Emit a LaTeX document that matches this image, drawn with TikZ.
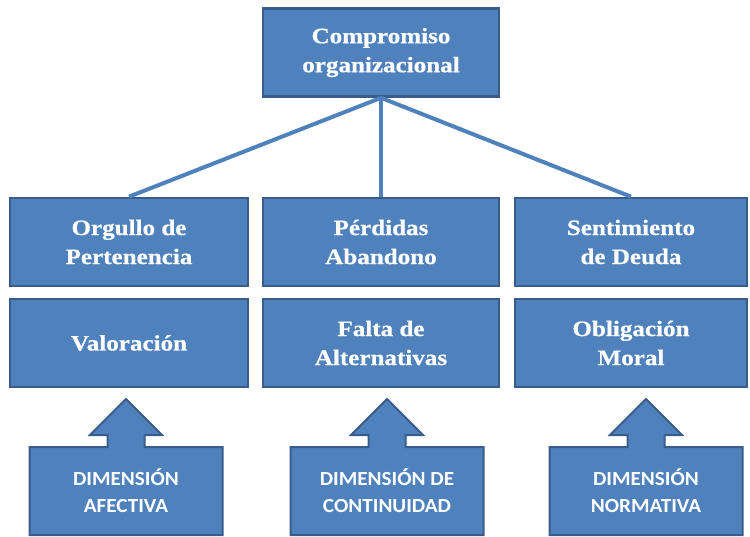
\documentclass[tikz,border=0pt]{standalone}
\usepackage{fontspec}
\setmainfont{Liberation Serif}
\newfontfamily\boxserif[FakeStretch=1.14,FakeBold=0.6]{Liberation Serif}
\newfontfamily\dimsans[FakeStretch=1.06]{Carlito}
\definecolor{boxfill}{HTML}{4F81BD}
\definecolor{boxedge}{HTML}{385D8A}
\definecolor{linkcol}{HTML}{4F81BD}
\begin{document}
\begin{tikzpicture}[x=1pt,y=-1pt,
  box/.style={draw=boxedge, line width=2.6pt, fill=boxfill, text=white,
    align=center, inner sep=0pt, minimum height=88pt,
    font=\boxserif\bfseries\fontsize{22}{29}\selectfont},
  link/.style={draw=linkcol, line width=4pt},
  upshape/.style={draw=boxedge, line width=2pt, fill=boxfill, line join=miter},
  dimtext/.style={text=white, align=center, inner sep=0pt,
    font=\dimsans\bfseries\fontsize{20}{27}\selectfont}]
\useasboundingbox (0,0) rectangle (750,536);

% top
\node[box, minimum width=236pt] (top) at (381,52.5) {Compromiso\\organizacional};

% row 2
\node[box, minimum width=238pt] (orgullo) at (129,242) {Orgullo de\\Pertenencia};
\node[box, minimum width=236pt] (perdidas) at (381,242) {Pérdidas\\Abandono};
\node[box, minimum width=232pt] (sentimiento) at (631,242) {Sentimiento\\de Deuda};

% row 3
\node[box, minimum width=238pt] (valoracion) at (129,343) {Valoración};
\node[box, minimum width=236pt] (falta) at (381,343) {Falta de\\Alternativas};
\node[box, minimum width=232pt] (obligacion) at (631,343) {Obligación\\Moral};

% connectors
\draw[link] (top.south) -- (orgullo.north);
\draw[link] (top.south) -- (perdidas.north);
\draw[link] (top.south) -- (sentimiento.north);

% bottom up-arrow shapes
\foreach \cx/\nm in {126/afe, 387/con, 646/nor}{
  \draw[upshape] (\cx-96.5,535) -- (\cx-96.5,447) -- (\cx-18.5,447) -- (\cx-18.5,435)
    -- (\cx-36,435) -- (\cx,399) -- (\cx+36,435) -- (\cx+18.5,435) -- (\cx+18.5,447)
    -- (\cx+96.5,447) -- (\cx+96.5,535) -- cycle;
}
\node[dimtext] (afe) at (126,491) {DIMENSIÓN\\AFECTIVA};
\node[dimtext] (con) at (387,491) {DIMENSIÓN DE\\CONTINUIDAD};
\node[dimtext] (nor) at (646,491) {DIMENSIÓN\\NORMATIVA};
\end{tikzpicture}
\end{document}
